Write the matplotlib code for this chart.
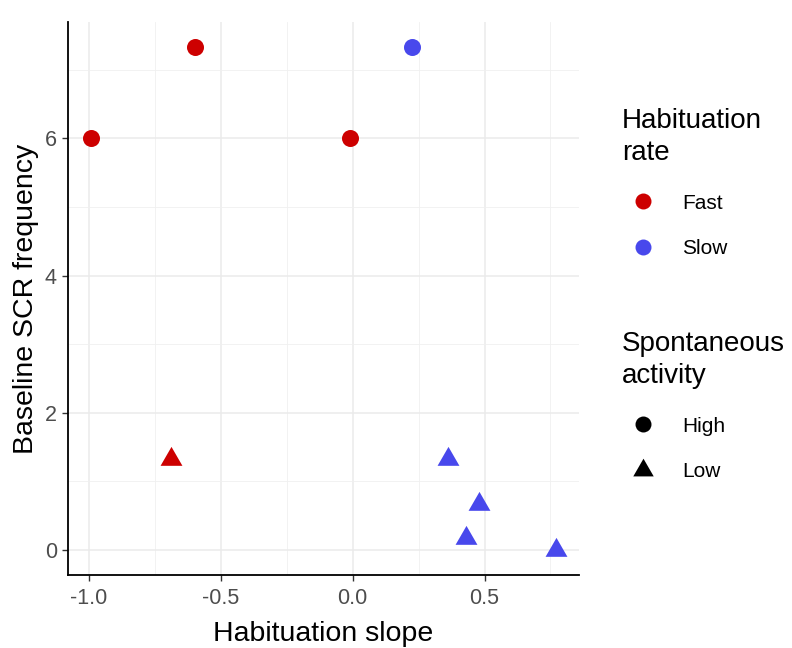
import matplotlib
matplotlib.use("Agg")
import matplotlib.pyplot as plt
from matplotlib.lines import Line2D
import numpy as np
import pandas as pd

# values
slope = [-0.99, -0.595, -0.01, 0.227, -0.686, 0.36, 0.48, 0.43, 0.77]
scr_freq = [6.0, 7.33, 6.0, 7.33, 1.33, 1.33, 0.67, 0.17, 0.0]
rate = ["Fast", "Fast", "Fast", "Slow", "Fast", "Slow", "Slow", "Slow", "Slow"]
activity = ["High", "High", "High", "High", "Low", "Low", "Low", "Low", "Low"]

x_ticks = [-1.0, -0.5, 0.0, 0.5]
y_ticks = [0, 2, 4, 6]

df = pd.DataFrame({"slope": slope, "freq": scr_freq, "rate": rate, "activity": activity})

colors = {"Fast": "#CD0000", "Slow": "#4848EC"}
tri = [(0, 0.577), (-0.5, -0.289), (0.5, -0.289)]
markers = {"High": "o", "Low": tri}
sizes = {"High": 150, "Low": 330}

plt.rcParams["font.family"] = ["Liberation Sans", "DejaVu Sans"]

fig = plt.figure(figsize=(7.92, 6.48), dpi=100)
ax = fig.add_axes([68 / 792, 1 - 575 / 648, (579 - 68) / 792, (575 - 22) / 648])

for (r, a), g in df.groupby(["rate", "activity"]):
    ax.scatter(g["slope"], g["freq"], c=colors[r], marker=markers[a], s=sizes[a],
               linewidths=0, zorder=3)

# ggplot-style 5% expansion
xr = max(slope) - min(slope)
yr = max(scr_freq) - min(scr_freq)
ax.set_xlim(min(slope) - 0.05 * xr, max(slope) + 0.05 * xr)
ax.set_ylim(min(scr_freq) - 0.05 * yr, max(scr_freq) + 0.05 * yr)

ax.set_xticks(x_ticks)
ax.set_xticklabels(["-1.0", "-0.5", "0.0", "0.5"])
ax.set_yticks(y_ticks)
ax.set_xticks([-0.75, -0.25, 0.25, 0.75], minor=True)
ax.set_yticks([1, 3, 5, 7], minor=True)
ax.grid(which="major", color="#ebebeb", linewidth=1.1, zorder=0)
ax.grid(which="minor", color="#f0f0f0", linewidth=0.6, zorder=0)
ax.set_axisbelow(True)

for s in ["top", "right"]:
    ax.spines[s].set_visible(False)
for s in ["left", "bottom"]:
    ax.spines[s].set_linewidth(1.3)
    ax.spines[s].set_color("black")

ax.tick_params(which="major", length=4, width=1, color="#333333",
               labelsize=15.5, labelcolor="#4D4D4D", pad=5)
ax.tick_params(axis="y", which="major", pad=4)
ax.tick_params(which="minor", length=0)

ax.set_xlabel("Habituation slope", fontsize=20.5, color="black", labelpad=9)
ax.set_ylabel("Baseline SCR frequency", fontsize=20.5, color="black", labelpad=4)

rate_handles = [Line2D([], [], linestyle="none", marker="o", markersize=11.5,
                       markerfacecolor=colors[k], markeredgewidth=0) for k in ["Fast", "Slow"]]
act_handles = [Line2D([], [], linestyle="none", marker=markers[k], markersize=11.5 if k == "High" else 17,
                      markerfacecolor="black", markeredgewidth=0) for k in ["High", "Low"]]

leg_kw = dict(frameon=False, fontsize=15, title_fontsize=20, alignment="left",
              handletextpad=0.87, labelspacing=1.25, borderaxespad=0, handlelength=2.0,
              borderpad=0)
leg1 = fig.legend(rate_handles, ["Fast", "Slow"], title="Habituation\nrate",
                  loc="upper left", bbox_to_anchor=(622 / 792, 1 - 108 / 648), **leg_kw)
leg2 = fig.legend(act_handles, ["High", "Low"], title="Spontaneous\nactivity",
                  loc="upper left", bbox_to_anchor=(622 / 792, 1 - 331 / 648), **leg_kw)
for leg in (leg1, leg2):
    leg._legend_box.sep = 20
    leg.get_title().set_linespacing(1.3)

fig.savefig("out.png", dpi=100, facecolor="white")
